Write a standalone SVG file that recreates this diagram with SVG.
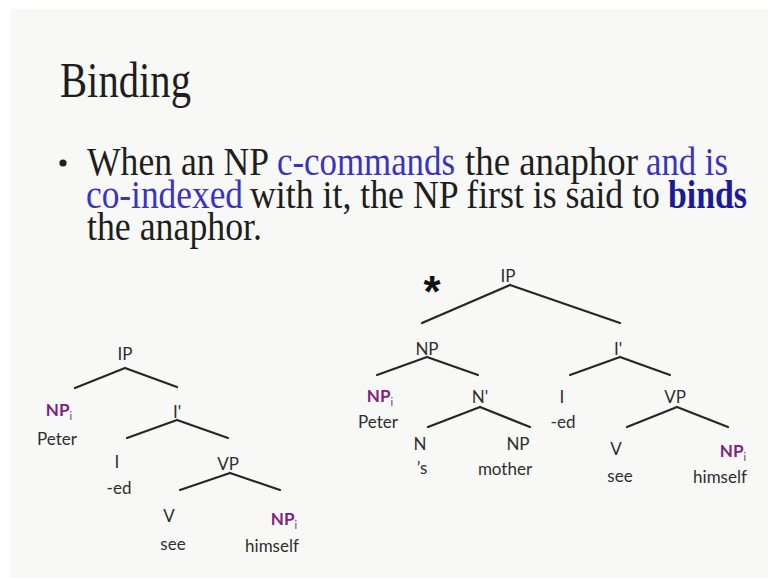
<svg xmlns="http://www.w3.org/2000/svg" width="768" height="578" viewBox="0 0 768 578">
<style>
.title{font-family:"Liberation Serif",serif;font-size:50px;fill:#1e1e1e}
.body{font-family:"Liberation Serif",serif;font-size:39px;fill:#1e1e1e}
.blue{fill:#3a33c2}
.bold{fill:#1b1a9c;font-weight:bold}
.lab{font-family:Lato,"Liberation Sans",sans-serif;font-size:17px;fill:#2e2e2e;text-anchor:middle}
.np{font-family:Lato,"Liberation Sans",sans-serif;font-size:17px;fill:#80207f;font-weight:bold;text-anchor:middle}
.sub{font-size:11px;font-weight:normal;fill:#6a3a6a}
.edge{stroke:#262626;stroke-width:2.2;fill:none;stroke-linecap:round}
</style>
<rect x="0" y="0" width="768" height="578" fill="#ffffff"/>
<rect x="11" y="9" width="757" height="569" fill="#f8f9f7"/>

<g id="title"><text class="title" x="60" y="97" textLength="131" lengthAdjust="spacingAndGlyphs">Binding</text></g>

<g id="bullet">
<circle cx="63" cy="163" r="3.6" fill="#1e1e1e"/>
<text class="body" x="87" y="175" textLength="182" lengthAdjust="spacingAndGlyphs">When an NP</text>
<text class="body blue" x="277" y="175" textLength="178" lengthAdjust="spacingAndGlyphs">c-commands</text>
<text class="body" x="465" y="175" textLength="173" lengthAdjust="spacingAndGlyphs">the anaphor</text>
<text class="body blue" x="646" y="175" textLength="82" lengthAdjust="spacingAndGlyphs">and is</text>
<text class="body blue" x="86" y="208" textLength="157" lengthAdjust="spacingAndGlyphs">co-indexed</text>
<text class="body" x="250" y="208" textLength="410" lengthAdjust="spacingAndGlyphs">with it, the NP first is said to</text>
<text class="body bold" x="668" y="208" textLength="79" lengthAdjust="spacingAndGlyphs">binds</text>
<text class="body" x="87" y="240" textLength="175" lengthAdjust="spacingAndGlyphs">the anaphor.</text>
</g>

<g id="connectors">
<path class="edge" d="M125 368 L75 388 M125 368 L177 387"/>
<path class="edge" d="M177 420 L127 438 M177 420 L228 438"/>
<path class="edge" d="M230 473 L180 490 M230 473 L280 490"/>
<path class="edge" d="M510 285 L422 323 M510 285 L620 323"/>
<path class="edge" d="M427 357 L377 375 M427 357 L478 375"/>
<path class="edge" d="M480 407 L428 427 M480 407 L530 427"/>
<path class="edge" d="M620 357 L570 375 M620 357 L670 375"/>
<path class="edge" d="M677 407 L627 427 M677 407 L728 427"/>
</g>

<g id="L-IP"><text class="lab" x="125" y="360">IP</text></g>
<g id="L-NPi"><text class="np" x="59" y="416">NP<tspan class="sub" dy="4">i</tspan></text><text class="lab" x="57" y="445">Peter</text></g>
<g id="L-Ibar"><text class="lab" x="177" y="418">I'</text></g>
<g id="L-I"><text class="lab" x="117" y="468">I</text><text class="lab" x="119" y="494">-ed</text></g>
<g id="L-VP"><text class="lab" x="228" y="470">VP</text></g>
<g id="L-V"><text class="lab" x="169" y="522">V</text><text class="lab" x="173" y="550">see</text></g>
<g id="L-NPi2"><text class="np" x="284" y="525">NP<tspan class="sub" dy="4">i</tspan></text><text class="lab" x="272" y="552">himself</text></g>

<g id="R-star"><text x="432" y="307" font-family="Liberation Sans,sans-serif" font-weight="bold" font-size="44" fill="#111" text-anchor="middle">*</text></g>
<g id="R-IP"><text class="lab" x="508" y="282">IP</text></g>
<g id="R-NP"><text class="lab" x="427" y="355">NP</text></g>
<g id="R-NPi"><text class="np" x="380" y="402">NP<tspan class="sub" dy="4">i</tspan></text><text class="lab" x="378" y="428">Peter</text></g>
<g id="R-Nbar"><text class="lab" x="480" y="403">N'</text></g>
<g id="R-N"><text class="lab" x="420" y="450">N</text><text class="lab" x="422" y="474">’s</text></g>
<g id="R-NP2"><text class="lab" x="518" y="450">NP</text><text class="lab" x="505" y="475">mother</text></g>
<g id="R-Ibar"><text class="lab" x="618" y="355">I'</text></g>
<g id="R-I"><text class="lab" x="562" y="403">I</text><text class="lab" x="563" y="428">-ed</text></g>
<g id="R-VP"><text class="lab" x="675" y="403">VP</text></g>
<g id="R-V"><text class="lab" x="616" y="455">V</text><text class="lab" x="620" y="482">see</text></g>
<g id="R-NPi2"><text class="np" x="733" y="457">NP<tspan class="sub" dy="4">i</tspan></text><text class="lab" x="720" y="483">himself</text></g>
</svg>
